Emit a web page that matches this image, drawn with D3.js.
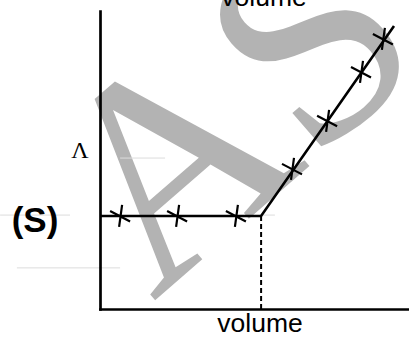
<!DOCTYPE html>
<html>
<head>
    <title></title>
    <meta charset="utf-8">
    <style>
        body { margin: 0; background: #fff; }
        svg { display: block; }
    </style>
</head>
<body>
<script src="https://d3js.org/d3.v7.min.js"></script>
<script>
    // the solid line: flat plateau, then a rising branch
    var lineVolume = [0, 5.37, 9.8];
    var lineLambda = [3.1, 3.1, 9.43];

    // measured points (crosses)
    var markVolume = [0.67, 2.57, 4.53, 6.4, 7.57, 8.7, 9.43];
    var markLambda = [3.1, 3.1, 3.1, 4.67, 6.27, 7.9, 9.0];

    // dashed drop line at the break point
    var breakVolume = 5.37;
    var breakLambda = 3.1;

    // faint leftover guide strokes in the scan
    var ghostLevel = [5.03, 3.13, 3.13, 1.37];
    var ghostFrom = [0.67, -3.33, 5.33, -2.77];
    var ghostTo = [2.17, -1.0, 5.83, 0.67];

    var width = 409, height = 338;

    var svg = d3.select('body').append('svg')
        .attr('width', width)
        .attr('height', height);

    var x = d3.scaleLinear().domain([0, 10.3]).range([100, 409]);
    var y = d3.scaleLinear().domain([0, 9.93]).range([309, 11]);

    // watermark
    svg.append('text')
        .attr('transform', 'translate(153,302) rotate(-41)')
        .attr('font-family', 'Liberation Serif')
        .attr('font-size', 290)
        .attr('fill', '#b3b3b3')
        .text('ASSIGNMENT');

    svg.selectAll('line.ghost')
        .data(ghostLevel)
        .enter().append('line')
        .attr('class', 'ghost')
        .attr('x1', function (d, i) { return x(ghostFrom[i]); })
        .attr('x2', function (d, i) { return x(ghostTo[i]); })
        .attr('y1', function (d) { return y(d); })
        .attr('y2', function (d) { return y(d); })
        .attr('stroke', '#dcdcdc')
        .attr('stroke-width', 1);

    // axes without ticks
    svg.append('g')
        .attr('transform', 'translate(0,' + y(0) + ')')
        .call(d3.axisBottom(x).ticks(0).tickSizeOuter(0));
    svg.append('g')
        .attr('transform', 'translate(' + x(0) + ',0)')
        .call(d3.axisLeft(y).ticks(0).tickSizeOuter(0));
    svg.selectAll('.domain')
        .attr('stroke', '#000')
        .attr('stroke-width', 2.7)
        .attr('stroke-linecap', 'square');

    svg.append('line')
        .attr('x1', x(breakVolume))
        .attr('x2', x(breakVolume))
        .attr('y1', y(breakLambda))
        .attr('y2', y(0))
        .attr('stroke', '#000')
        .attr('stroke-width', 2)
        .attr('stroke-dasharray', '5,3');

    var line = d3.line()
        .x(function (d) { return x(d); })
        .y(function (d, i) { return y(lineLambda[i]); });

    svg.append('path')
        .attr('d', line(lineVolume))
        .attr('fill', 'none')
        .attr('stroke', '#000')
        .attr('stroke-width', 2.6);

    // tilted crosses
    svg.selectAll('path.mark')
        .data(markVolume)
        .enter().append('path')
        .attr('class', 'mark')
        .attr('transform', function (d, i) {
            return 'translate(' + x(d) + ',' + y(markLambda[i]) + ')';
        })
        .attr('d', 'M-10,-5L10,5.5M2,-11L-1,11')
        .attr('fill', 'none')
        .attr('stroke', '#000')
        .attr('stroke-width', 2.2);

    // labels
    svg.append('text')
        .attr('x', 260)
        .attr('y', 332)
        .attr('text-anchor', 'middle')
        .attr('font-family', 'Liberation Sans')
        .attr('font-size', 26.5)
        .text('volume');

    svg.append('text')
        .attr('x', 264)
        .attr('y', 6)
        .attr('text-anchor', 'middle')
        .attr('font-family', 'Liberation Sans')
        .attr('font-size', 26.5)
        .text('volume');

    svg.append('text')
        .attr('x', 80)
        .attr('y', 158)
        .attr('text-anchor', 'middle')
        .attr('font-family', 'Liberation Serif')
        .attr('font-size', 24)
        .text('\u039B');

    svg.append('text')
        .attr('x', 35)
        .attr('y', 232)
        .attr('text-anchor', 'middle')
        .attr('font-family', 'Liberation Sans')
        .attr('font-weight', 'bold')
        .attr('font-size', 35)
        .text('(S)');
</script>
</body>
</html>
